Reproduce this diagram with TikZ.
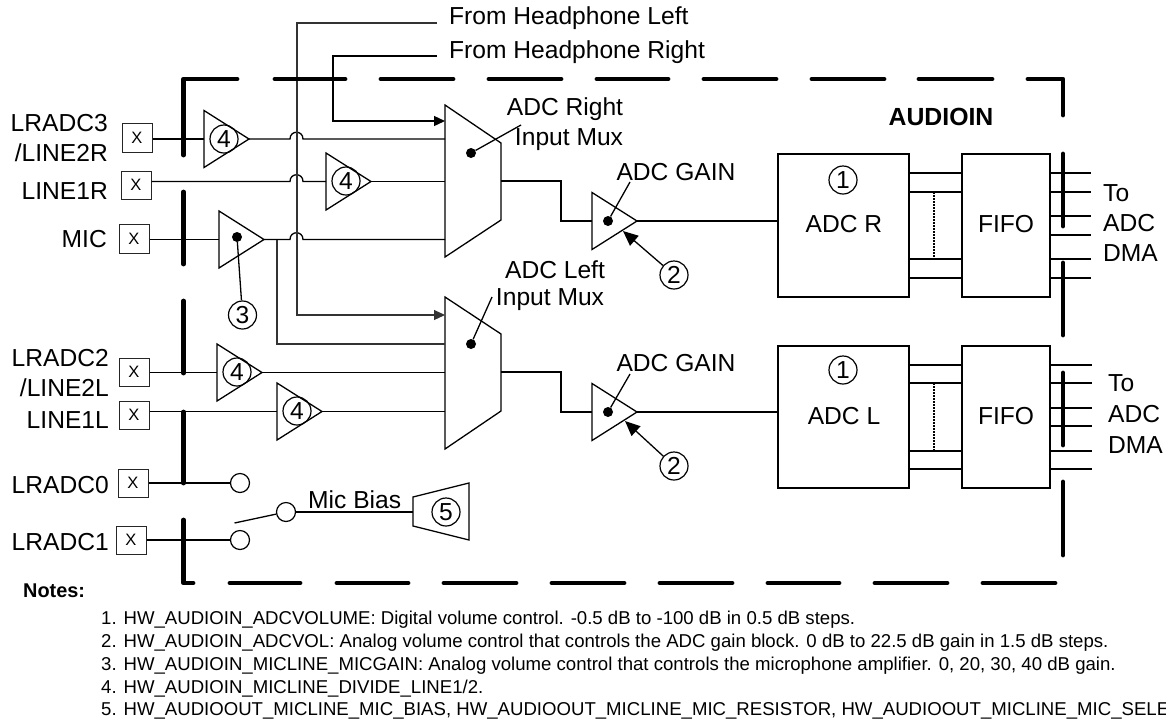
\documentclass[tikz,border=0pt]{standalone}
\usepackage{fontspec}
\setmainfont{Liberation Sans}
\usetikzlibrary{arrows.meta}
\newcommand{\ampshape}[3]{%
  \coordinate (#1-in) at (#2,#3);
  \coordinate (#1-out) at (#2+45,#3);
  \draw[wire,fill=white] (#2,#3-28.5) -- (#2+45,#3) -- (#2,#3+28.5) -- cycle;
}
\newcommand{\padbox}[6]{% name x1 x2 y1 y2 (center computed)
  \node[padb,minimum width=#3pt-#2pt,minimum height=#5pt-#4pt] (#1) at ({(#2+#3)/2},{(#4+#5)/2}) {X};
}
\tikzset{
  x=1pt,y=-1pt,
  wire/.style={line width=1.3pt,draw=black,line join=miter},
  thin wire/.style={line width=1.1pt,draw=black!80},
  bound/.style={line width=4.8pt,line cap=round,line join=round},
  padb/.style={draw=black!85,line width=1pt,inner sep=0pt,font=\fontsize{16.5}{18}\selectfont},
  lbl/.style={inner sep=0pt,font=\fontsize{24.6}{28}\selectfont},
  lleft/.style={lbl,anchor=base east},
  numc/.style={draw,circle,line width=1.2pt,minimum size=28pt,inner sep=0pt,font=\fontsize{24.6}{28}\selectfont},
  dotn/.style={circle,fill=black,minimum size=10pt,inner sep=0pt},
  term/.style={draw,circle,line width=1.2pt,minimum size=19pt,inner sep=0pt,fill=white},
  blockb/.style={draw,line width=1.3pt,inner sep=0pt,font=\fontsize{24.6}{28}\selectfont},
  note/.style={inner sep=0pt,anchor=base west,font=\fontsize{18.6}{20}\selectfont},
  in arrow/.style={-{Triangle[length=11pt,width=10pt]}},
  big arrow/.style={-{Triangle[length=15pt,width=13pt]}},
}
\begin{document}
\begin{tikzpicture}
\useasboundingbox (0,0) rectangle (1166,721);
\clip (0,0) rectangle (1166,721);

% headphone label wires
\node[lbl,anchor=west] (hpl) at (449,18) {From Headphone Left};
\node[lbl,anchor=west] (hpr) at (449,52) {From Headphone Right};
\coordinate (hplw) at (437,23);
\coordinate (hprw) at (437,56);

% muxes
\draw[wire,fill=white] (445,105) coordinate (muxR-tl) -- (501,143) -- (501,220) -- (445,257) -- cycle;
\draw[wire,fill=white] (445,297) coordinate (muxL-tl) -- (501,334) -- (501,411) -- (445,449) -- cycle;

% amplifiers
\ampshape{aA}{204}{139}
\ampshape{aB}{326}{181.5}
\ampshape{aM}{219}{239.5}
\ampshape{aC}{217}{372.5}
\ampshape{aD}{277}{411.5}
\ampshape{gR}{592}{221}
\ampshape{gL}{592}{412}

% pads
\padbox{pA}{122}{152}{123}{152}{}
\padbox{pB}{121}{151}{171}{199}{}
\padbox{pM}{119}{149}{224}{253}{}
\padbox{pC}{119}{149}{358}{386}{}
\padbox{pD}{119}{149}{401}{429}{}
\padbox{pE}{118}{148}{469}{497}{}
\padbox{pF}{116}{146}{526}{554}{}

% mic-bias terminals
\node[term] (t0) at (240,483) {};
\node[term] (t1) at (240,540) {};
\node[term] (tb) at (286,512) {};

% mux inputs
\coordinate (mR1) at (445,121);
\coordinate (mR2) at (445,139);
\coordinate (mR3) at (445,181.5);
\coordinate (mR4) at (445,239.5);
\coordinate (mL1) at (445,315);
\coordinate (mL2) at (445,344);
\coordinate (mL3) at (445,372.5);
\coordinate (mL4) at (445,411.5);

% input wires
\draw[wire] (pA.east |- aA-in) -- (aA-in);
\draw[wire] (aA-out) -- (290,139) .. controls (290,130) and (303,130) .. (303,139) -- (mR2);
\draw[wire] (pB.east |- aB-in) -- (290,181.5) .. controls (290,172.5) and (303,172.5) .. (303,181.5) -- (aB-in);
\draw[wire] (aB-out) -- (mR3);
\draw[wire] (pM.east |- aM-in) -- (aM-in);
\draw[wire] (aM-out) -- (290,239.5) .. controls (290,230.5) and (303,230.5) .. (303,239.5) -- (mR4);
\draw[thin wire] (277,239.5) -- (277,344) -- (mL2);
\draw[wire] (pC.east |- aC-in) -- (aC-in);
\draw[wire] (aC-out) -- (mL3);
\draw[wire] (pD.east |- aD-in) -- (aD-in);
\draw[wire] (aD-out) -- (mL4);
\draw[wire] (pE.east |- t0) -- (t0);
\draw[wire] (pF.east |- t1) -- (t1);

% headphone wires
\draw[thin wire,in arrow] (hplw) -- (297,23) -- (297,315) -- (mL1);
\draw[wire,in arrow] (hprw) -- (333,56) -- (333,121) -- (mR1);

% gain paths
\draw[wire] (501,181) -- (561,181) -- (561,221) -- (gR-in);
\draw[wire] (501,372) -- (561,372) -- (561,412) -- (gL-in);

% blocks
\node[blockb,minimum width=131pt,minimum height=143pt] (adcR) at (843.5,225.5) {};
\node[blockb,minimum width=88pt,minimum height=143pt] (fifoR) at (1006,225.5) {};
\node[blockb,minimum width=131pt,minimum height=142pt] (adcL) at (843.5,417) {};
\node[blockb,minimum width=88pt,minimum height=142pt] (fifoL) at (1006,417) {};
\node[lbl] (tadcR) at (844,224) {ADC R};
\node[lbl] (tfifoR) at (1006,224) {FIFO};
\node[lbl] (tadcL) at (844,416) {ADC L};
\node[lbl] (tfifoL) at (1006,416) {FIFO};
\draw[wire] (gR-out) -- (adcR.west |- gR-out);
\draw[wire] (gL-out) -- (adcL.west |- gL-out);

% buses between ADC and FIFO
\foreach \yy in {173,192,259,278}
  \draw[wire] (adcR.east |- 0,\yy) -- (fifoR.west |- 0,\yy);
\foreach \yy in {365,383,451,469}
  \draw[wire] (adcL.east |- 0,\yy) -- (fifoL.west |- 0,\yy);
\draw[line width=1.3pt,dash pattern=on 2pt off 1pt] (934,192) -- (934,259);
\draw[line width=1.3pt,dash pattern=on 2pt off 1pt] (934,383) -- (934,451);

% outputs
\foreach \yy in {173,192,216,235,259,278}
  \draw[wire] (fifoR.east |- 0,\yy) -- (1091,\yy);
\foreach \yy in {365,383,408,426,451,469}
  \draw[wire] (fifoL.east |- 0,\yy) -- (1092,\yy);

% mic bias
\draw[wire] (234.5,523) -- (tb);
\draw[wire] (tb) -- (413,512);
\draw[wire,fill=white] (413,497) -- (469,483) -- (469,540) -- (413,526) -- cycle;
\node[numc] (n5) at (446,512) {5};
\node[lbl,anchor=base west] (mb) at (308,508) {Mic Bias};

% boundary
\draw[bound] (183.5,155) -- (183.5,79) -- (237,79);
\draw[bound] (1028,79) -- (1063,79) -- (1063,115);
\draw[bound] (183.5,520) -- (183.5,583) -- (193,583);
\foreach \a/\b in {275/345,381/453,489/561,597/668,704/776,812/884,919/992}
  \draw[bound] (\a,79) -- (\b,79);
\foreach \a/\b in {192/264,301/373,412/483}
  \draw[bound] (183.5,\a) -- (183.5,\b);
\foreach \a/\b in {154/226,263/335,373/445,482/555}
  \draw[bound] (1063,\a) -- (1063,\b);
\foreach \a/\b in {230/300,337/408,444/516,552/624,660/732,768/839,875/947,983/1055}
  \draw[bound] (\a,583) -- (\b,583);

% numbered circles
\node[numc] (n4a) at (224,139) {4};
\node[numc] (n4b) at (346,181) {4};
\node[numc] (n4c) at (237,372) {4};
\node[numc] (n4d) at (297,411) {4};
\node[numc] (n3) at (242.5,315) {3};
\node[numc] (n2a) at (674,275) {2};
\node[numc] (n2b) at (674,466) {2};
\node[numc] (n1a) at (843,180) {1};
\node[numc] (n1b) at (843,370) {1};

% control dots and leaders
\node[dotn] (dM) at (237,237) {};
\draw[wire] (dM) -- (n3);
\node[dotn] (dmR) at (471,153) {};
\coordinate (lmR) at (521,125);
\draw[wire] (dmR) -- (lmR);
\node[dotn] (dmL) at (471,344) {};
\coordinate (lmL) at (492,297);
\draw[wire] (dmL) -- (lmL);
\node[dotn] (dgR) at (608,221) {};
\coordinate (lgR) at (630,182);
\draw[wire] (dgR) -- (lgR);
\node[dotn] (dgL) at (608,412) {};
\coordinate (lgL) at (630,374);
\draw[wire] (dgL) -- (lgL);
\coordinate (agR) at (623,231);
\coordinate (agL) at (625,421);
\draw[wire,big arrow] (n2a) -- (agR);
\draw[wire,big arrow] (n2b) -- (agL);

% labels
\node[lleft] (lA) at (108,131) {LRADC3};
\node[lleft] (lA2) at (108,161) {/LINE2R};
\node[lleft] (lB) at (108,199) {LINE1R};
\node[lleft] (lM) at (107,247) {MIC};
\node[lleft] (lC) at (109,366) {LRADC2};
\node[lleft] (lC2) at (109,396) {/LINE2L};
\node[lleft] (lD) at (109,428) {LINE1L};
\node[lleft] (lE) at (109,493) {LRADC0};
\node[lleft] (lF) at (109,550) {LRADC1};

\node[lbl] (tmR1) at (565,109) {ADC Right};
\node[lbl] (tmR2) at (569,140) {Input Mux};
\node[lbl] (tmL1) at (555,270) {ADC Left};
\node[lbl] (tmL2) at (550,300) {Input Mux};
\node[lbl] (tgR) at (676,172) {ADC GAIN};
\node[lbl] (tgL) at (676,363) {ADC GAIN};
\node[lbl,font=\fontsize{24.8}{28}\selectfont\bfseries] (audio) at (941,117) {AUDIOIN};

\node[lbl,anchor=west] (to1) at (1103,193) {To};
\node[lbl,anchor=west] (to2) at (1103,223) {ADC};
\node[lbl,anchor=west] (to3) at (1103,253) {DMA};
\node[lbl,anchor=west] (to4) at (1108,383) {To};
\node[lbl,anchor=west] (to5) at (1108,414) {ADC};
\node[lbl,anchor=west] (to6) at (1108,445) {DMA};

% notes
\node[note,font=\fontsize{19.9}{22}\selectfont\bfseries] (notes) at (23,597) {Notes:};
\node[note] (n1) at (101,624.5) {1. HW\_AUDIOIN\_ADCVOLUME: Digital volume control. -0.5 dB to -100 dB in 0.5 dB steps.};
\node[note] (n2) at (101,647) {2. HW\_AUDIOIN\_ADCVOL: Analog volume control that controls the ADC gain block. 0 dB to 22.5 dB gain in 1.5 dB steps.};
\node[note] (n3t) at (101,670) {3. HW\_AUDIOIN\_MICLINE\_MICGAIN: Analog volume control that controls the microphone amplifier. 0, 20, 30, 40 dB gain.};
\node[note] (n4t) at (101,693) {4. HW\_AUDIOIN\_MICLINE\_DIVIDE\_LINE1/2.};
\node[note] (n5t) at (101,715) {5. HW\_AUDIOOUT\_MICLINE\_MIC\_BIAS, HW\_AUDIOOUT\_MICLINE\_MIC\_RESISTOR, HW\_AUDIOOUT\_MICLINE\_MIC\_SELE};
\end{tikzpicture}
\end{document}
